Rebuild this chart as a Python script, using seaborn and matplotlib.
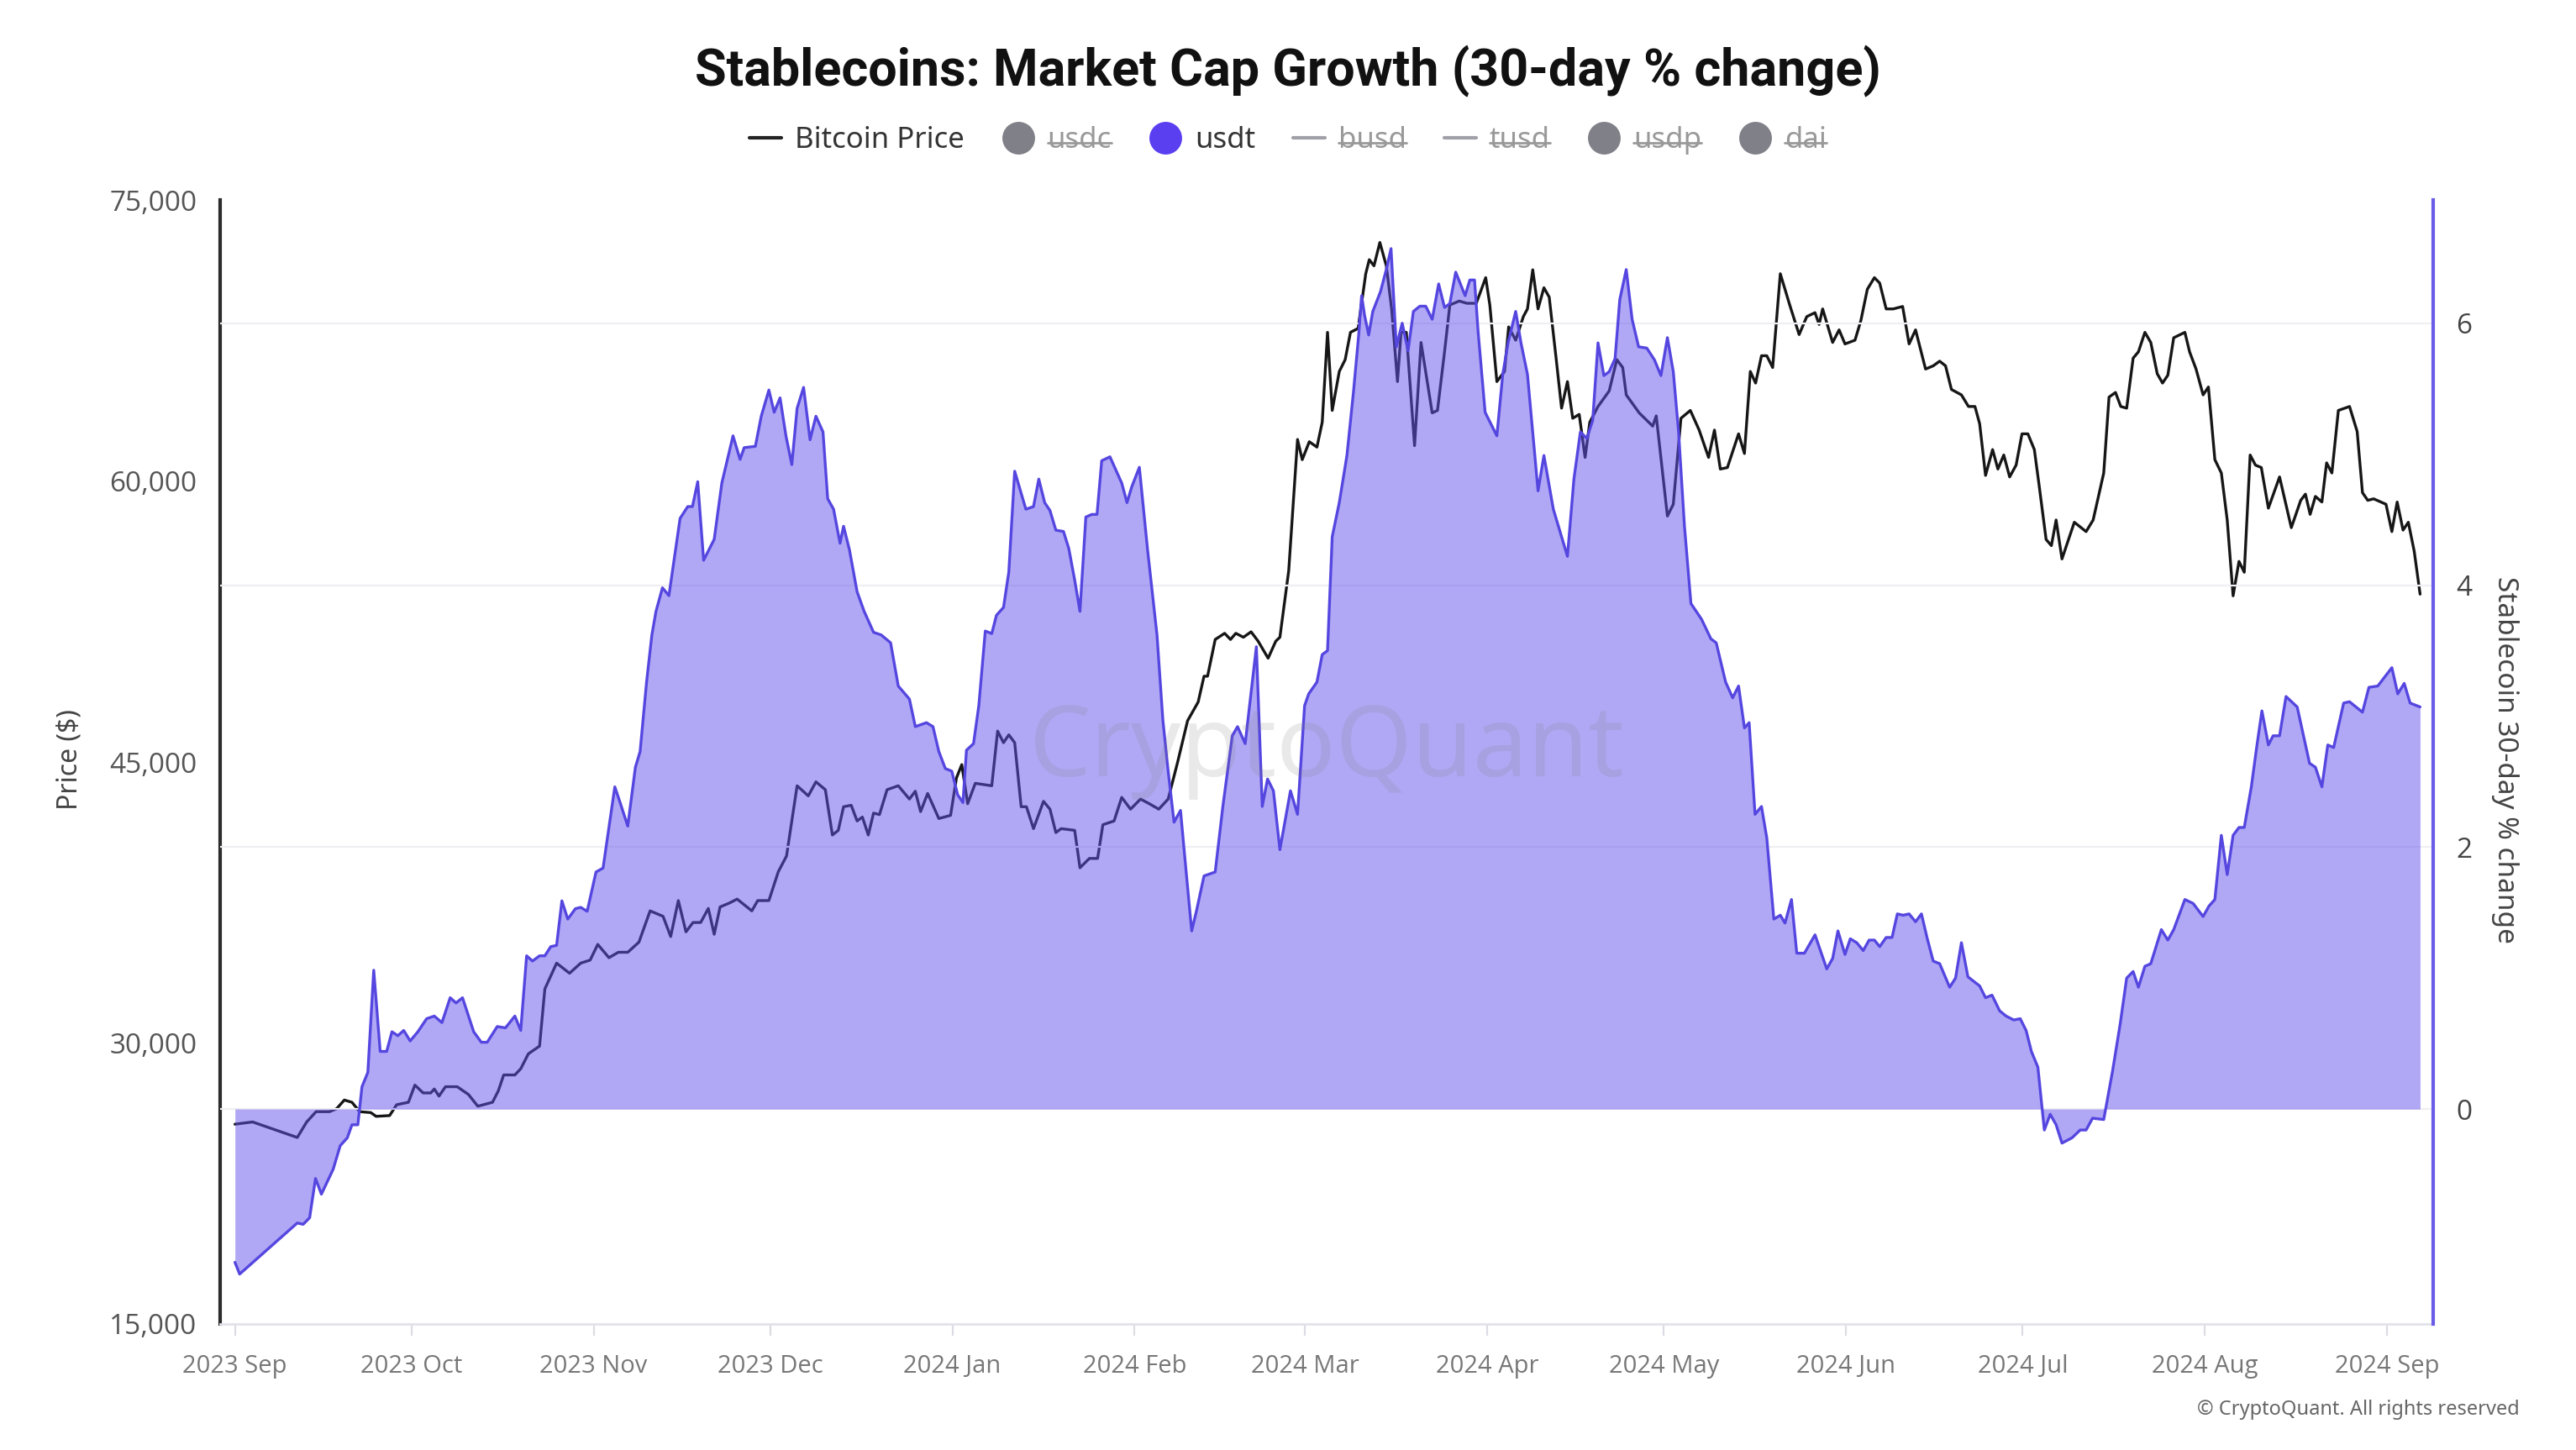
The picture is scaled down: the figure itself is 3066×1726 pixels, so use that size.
import matplotlib
matplotlib.use('Agg')
import matplotlib.pyplot as plt
import matplotlib.dates as mdates
from matplotlib.lines import Line2D
from matplotlib.ticker import FuncFormatter
import seaborn as sns
import pandas as pd

start = pd.Timestamp('2023-09-01')

# bitcoin price, days after 2023-09-01
price_days = [0, 3.0, 10.6, 12.2, 13.8, 16.1, 17.3, 18.6, 19.9, 21.2, 23.1, 24.0, 26.3, 27.5, 29.5,
              30.6, 32.0, 33.3, 33.9, 34.7, 35.8, 37.8, 39.7, 41.3, 43.8, 44.8, 45.7, 47.6, 48.6, 49.9,
              51.8, 52.7, 54.7, 56.9, 58.8, 60.4, 61.7, 63.6, 65.2, 66.8, 68.7, 70.6, 72.8, 74.1, 75.4,
              76.7, 77.9, 79.2, 80.5, 81.5, 82.5, 84.1, 85.4, 87.9, 88.9, 90.8, 92.4, 93.8, 95.6,
              97.5, 98.8, 100.4, 101.6, 102.6, 103.5, 104.8, 105.8, 106.7, 107.7, 108.6, 109.6, 110.9,
              112.8, 114.7, 115.7, 116.6, 117.8, 119.7, 121.7, 122.7, 123.6, 124.6, 125.9, 128.7,
              129.7, 130.7, 131.6, 132.6, 133.7, 134.6, 135.8, 137.5, 138.6, 139.6, 140.5, 142.8,
              143.7, 145.3, 146.7, 147.6, 149.5, 150.8, 152.3, 154.0, 155.5, 157.1, 158.7, 160.3,
              162.0, 163.8, 164.8, 165.4, 166.7, 168.3, 169.3, 170.2, 171.5, 172.8, 174.0, 175.7,
              177.0, 177.7, 179.2, 180.7, 181.5, 182.7, 184.0, 184.9, 185.8, 186.6, 187.8, 188.8,
              189.7, 191.0, 192.3, 192.9, 193.7, 194.7, 195.8, 196.7, 197.7, 198.3, 199.2, 200.6,
              201.7, 203.6, 204.5, 205.7, 206.6, 208.2, 209.5, 211.1, 212.7, 213.4, 214.6, 215.9,
              216.6, 217.8, 219.1, 219.8, 220.7, 221.6, 222.6, 223.5, 224.7, 225.6, 226.6, 227.5,
              228.6, 229.6, 230.4, 231.8, 233.7, 235.0, 236.0, 236.6, 238.8, 241.1, 241.7, 243.6,
              244.6, 245.9, 247.5, 249.0, 250.6, 251.6, 252.6, 253.8, 255.7, 256.7, 257.7, 258.6,
              259.6, 260.5, 261.5, 262.8, 264.4, 266.0, 267.3, 268.7, 269.4, 270.0, 271.7, 272.8,
              273.8, 275.5, 276.5, 277.6, 278.8, 279.7, 280.8, 282.0, 283.6, 284.7, 285.8, 287.5,
              288.8, 289.9, 290.9, 291.9, 293.6, 294.8, 295.9, 296.7, 297.7, 298.9, 299.8, 300.8,
              301.8, 302.9, 303.9, 304.9, 306.0, 306.8, 308.0, 308.9, 309.7, 310.7, 312.8, 314.8,
              316.0, 317.8, 318.7, 319.8, 320.7, 321.7, 322.8, 323.7, 324.8, 325.8, 326.9, 327.8,
              328.7, 329.7, 331.6, 332.4, 333.5, 334.7, 335.6, 336.7, 337.8, 338.8, 339.8, 340.8,
              341.7, 342.7, 343.6, 344.6, 345.8, 347.7, 349.7, 351.3, 352.1, 352.9, 353.8, 354.9,
              355.7, 356.6, 357.7, 359.6, 360.9, 361.8, 362.7, 363.7, 365.8, 366.8, 367.7, 368.7,
              369.6, 370.6, 371.6]
price_usd = [25660, 25780, 24950, 25780, 26330, 26330, 26490, 26950, 26830, 26330, 26280, 26080, 26120, 26700, 26830,
             27750, 27330, 27330, 27540, 27160, 27660, 27660, 27250, 26620, 26830, 27450, 28290, 28290, 28620, 29420,
             29830, 32880, 34260, 33720, 34260, 34420, 35260, 34550, 34840, 34840, 35380, 37050, 36760, 35680, 37600,
             35930, 36430, 36430, 37180, 35800, 37260, 37470, 37680, 37050, 37600, 37600, 39140, 39980, 43730,
             43190, 43940, 43520, 41100, 41350, 42610, 42690, 41850, 42060, 41100, 42270, 42190, 43520,
             43730, 43020, 43440, 42350, 43320, 41980, 42150, 44150, 44860, 42770, 43860, 43730,
             46650, 46030, 46450, 46030, 42610, 42610, 41440, 42900, 42480, 41230, 41440, 41350,
             39350, 39850, 39850, 41650, 41850, 43110, 42480, 43020, 42770, 42480, 43020, 44980,
             47200, 48200, 49580, 49580, 51540, 51870, 51540, 51870, 51660, 51950, 51450, 50540,
             51450, 51660, 55210, 62220, 61140, 62100, 61810, 63140, 67940, 63770, 65850, 66480,
             67940, 68150, 71070, 71820, 71490, 72740, 71490, 69190, 65310, 67940, 67940, 61890,
             67400, 63640, 63770, 66900, 69400, 69610, 69490, 69490, 70860, 69400, 65310, 65850,
             68230, 67520, 68780, 69190, 71280, 69190, 70320, 69820, 66480, 63890, 65310, 63350,
             63560, 61260, 63140, 63980, 64810, 66480, 66060, 64600, 63640, 62930, 63480, 58130,
             58760, 63350, 63770, 62720, 61260, 62720, 60640, 60720, 62520, 61470, 65850, 65230,
             66690, 66690, 66060, 71070, 69400, 67820, 68780, 68990, 68360, 69190, 67400, 68070,
             67320, 67520, 68570, 70240, 70860, 70570, 69190, 69190, 69320, 67320, 68070, 65980,
             66150, 66400, 66150, 64890, 64600, 63980, 63980, 63060, 60300, 61680, 60640, 61390,
             60220, 60850, 62520, 62520, 61680, 59800, 56880, 56550, 57920, 55840, 57800, 57300,
             57920, 60430, 64480, 64730, 63980, 63890, 66560, 66900, 67940, 67400, 65730, 65230,
             65650, 67650, 67940, 66900, 65980, 64600, 65020, 61140, 60430, 57920, 53870, 55710,
             55130, 61390, 60850, 60720, 58550, 60220, 57510, 58970, 59300, 58220, 59180, 58880,
             60970, 60430, 63770, 63980, 62640, 59380, 58970, 59050, 58760, 57300, 58880, 57380,
             57800, 56250, 53960]

# usdt market cap, 30-day % change
usdt_days = [0.0, 0.8, 10.6, 11.6, 12.7, 13.7, 14.7, 16.7, 17.9, 19.1, 19.9, 20.9, 21.6, 22.6, 23.6,
             24.7, 25.8, 26.7, 27.7, 28.7, 29.8, 31.1, 32.6, 33.9, 35.2, 36.6, 37.6, 38.7, 40.6, 41.9,
             42.9, 44.6, 46.0, 47.6, 48.6, 49.6, 50.6, 51.8, 52.7, 53.7, 54.7, 55.6, 56.6, 57.9, 58.8,
             59.9, 61.4, 62.6, 64.6, 65.5, 66.8, 68.1, 68.9, 70.0, 70.9, 71.6, 72.7, 73.8, 75.7, 77.0,
             77.8, 78.7, 79.7, 81.5, 82.8, 84.7, 85.9, 86.6, 88.5, 89.5, 90.8, 91.7, 92.7, 93.7, 94.7,
             95.6, 96.7, 97.8, 98.8, 100.0, 100.8, 101.8, 102.9, 103.5, 104.5, 105.8, 107.0, 108.6,
             109.9, 111.5, 112.8, 114.7, 115.7, 117.6, 118.7, 119.7, 120.8, 121.9, 122.9, 123.8,
             124.4, 125.6, 126.5, 127.6, 128.7, 129.5, 130.7, 131.6, 132.6, 134.5, 135.8, 136.7,
             137.7, 138.6, 139.6, 140.9, 141.8, 142.8, 143.7, 144.7, 145.7, 146.6, 147.4, 148.8,
             150.8, 151.7, 152.5, 153.8, 155.2, 156.8, 157.8, 158.7, 159.7, 160.8, 161.7, 162.7,
             163.5, 164.8, 166.7, 168.0, 169.6, 170.5, 171.8, 173.7, 174.7, 175.6, 176.6, 177.7,
             179.5, 180.7, 181.9, 182.6, 184.0, 184.9, 185.8, 186.6, 187.8, 189.1, 190.2, 191.1,
             191.6, 192.1, 192.8, 193.5, 194.8, 195.8, 196.6, 197.5, 198.5, 199.5, 200.4, 201.5,
             202.5, 203.6, 204.7, 205.7, 206.6, 207.6, 209.2, 210.0, 210.8, 211.4, 212.6, 214.6,
             215.6, 216.5, 217.8, 218.7, 219.8, 221.6, 222.6, 224.2, 226.6, 227.7, 228.8, 229.9,
             230.9, 231.8, 232.8, 233.7, 234.7, 235.5, 236.6, 237.6, 238.7, 240.1, 241.4, 242.5,
             243.6, 244.6, 245.5, 246.5, 247.6, 249.4, 251.0, 251.9, 253.5, 254.7, 255.7, 256.7,
             257.5, 258.5, 259.6, 260.5, 261.7, 262.8, 263.6, 264.7, 265.6, 266.9, 268.7, 270.7,
             271.7, 272.6, 273.8, 274.7, 275.8, 276.9, 277.9, 278.8, 279.7, 280.8, 281.8, 282.7,
             283.7, 284.7, 285.8, 286.8, 287.8, 288.8, 289.9, 291.6, 292.6, 293.6, 294.7, 296.7,
             297.7, 298.8, 300.1, 301.2, 302.5, 303.6, 304.6, 305.5, 306.6, 307.7, 308.7, 309.7,
             310.7, 312.4, 313.8, 314.8, 315.9, 317.8, 319.3, 320.6, 321.7, 322.8, 323.7, 324.8,
             325.8, 327.6, 328.7, 329.7, 331.6, 333.0, 334.7, 335.7, 336.7, 337.8, 338.8, 339.8,
             340.8, 341.7, 342.9, 343.8, 344.7, 345.8, 346.6, 347.7, 348.8, 350.7, 352.8, 353.8,
             354.9, 355.9, 356.9, 358.6, 359.6, 361.8, 362.9, 364.4, 366.8, 367.8, 368.9, 369.9,
             371.6]
usdt_change = [-1.17, -1.26, -0.87, -0.88, -0.83, -0.53, -0.65, -0.46, -0.28, -0.22, -0.12, -0.12, 0.17, 0.28, 1.06,
               0.44, 0.44, 0.59, 0.56, 0.60, 0.52, 0.59, 0.69, 0.71, 0.66, 0.85, 0.81, 0.85, 0.59, 0.51,
               0.51, 0.63, 0.62, 0.71, 0.60, 1.17, 1.13, 1.17, 1.17, 1.24, 1.25, 1.59, 1.45, 1.53, 1.54,
               1.51, 1.81, 1.84, 2.46, 2.34, 2.16, 2.61, 2.73, 3.26, 3.62, 3.80, 3.98, 3.92, 4.51, 4.60,
               4.60, 4.79, 4.19, 4.35, 4.78, 5.14, 4.96, 5.05, 5.06, 5.29, 5.49, 5.32, 5.43, 5.14, 4.92,
               5.35, 5.51, 5.11, 5.29, 5.17, 4.66, 4.58, 4.32, 4.45, 4.27, 3.95, 3.80, 3.64,
               3.62, 3.56, 3.23, 3.13, 2.92, 2.95, 2.92, 2.73, 2.60, 2.58, 2.40, 2.34,
               2.74, 2.79, 3.08, 3.65, 3.63, 3.77, 3.83, 4.10, 4.87, 4.58, 4.60, 4.81,
               4.63, 4.57, 4.42, 4.41, 4.28, 4.04, 3.80, 4.52, 4.54, 4.54, 4.95, 4.98,
               4.78, 4.63, 4.75, 4.90, 4.27, 3.62, 2.97, 2.58, 2.19, 2.28, 1.84, 1.36,
               1.51, 1.78, 1.81, 2.31, 2.85, 2.92, 2.79, 3.53, 2.31, 2.52, 2.43, 1.98,
               2.43, 2.25, 3.08, 3.17, 3.26, 3.47, 3.50, 4.37, 4.63, 4.99, 5.47, 5.91,
               6.21, 6.06, 5.91, 6.09, 6.24, 6.41, 6.57, 5.82, 6.00, 5.79, 6.09, 6.13,
               6.13, 6.03, 6.30, 6.12, 6.15, 6.39, 6.21, 6.33, 6.33, 5.94, 5.32, 5.14,
               5.61, 5.85, 6.09, 5.85, 5.61, 4.72, 4.99, 4.58, 4.22, 4.81, 5.17, 5.12,
               5.26, 5.85, 5.60, 5.63, 5.73, 6.18, 6.41, 6.03, 5.82, 5.81, 5.72, 5.60,
               5.89, 5.63, 5.17, 4.45, 3.86, 3.74, 3.59, 3.56, 3.26, 3.14, 3.23, 2.91,
               2.95, 2.25, 2.31, 2.07, 1.45, 1.48, 1.42, 1.60, 1.19, 1.19, 1.33, 1.07,
               1.15, 1.36, 1.18, 1.30, 1.27, 1.21, 1.29, 1.29, 1.24, 1.31, 1.31, 1.49,
               1.48, 1.49, 1.43, 1.49, 1.30, 1.13, 1.11, 0.93, 1.00, 1.27, 1.01, 0.94,
               0.85, 0.87, 0.75, 0.71, 0.68, 0.69, 0.60, 0.44, 0.32, -0.16, -0.04, -0.12,
               -0.26, -0.22, -0.16, -0.16, -0.07, -0.08, 0.29, 0.65, 1.00, 1.05, 0.93, 1.09,
               1.11, 1.37, 1.29, 1.37, 1.60, 1.57, 1.47, 1.55, 1.60, 2.09, 1.79, 2.09,
               2.15, 2.15, 2.46, 2.76, 3.04, 2.78, 2.85, 2.85, 3.15, 3.07, 2.64, 2.61,
               2.46, 2.78, 2.76, 3.10, 3.11, 3.03, 3.22, 3.23, 3.37, 3.17, 3.25, 3.10,
               3.07]

legend_names = ['Bitcoin Price', 'usdc', 'usdt', 'busd', 'tusd', 'usdp', 'dai']
legend_kind = ['line', 'dot', 'dot', 'line', 'line', 'dot', 'dot']
legend_active = [True, False, True, False, False, False, False]

price_df = pd.DataFrame({'date': start + pd.to_timedelta(price_days, unit='D'), 'price': price_usd})
usdt_df = pd.DataFrame({'date': start + pd.to_timedelta(usdt_days, unit='D'), 'change': usdt_change})

sns.set_theme(style='white')
plt.rcParams['font.family'] = ['Noto Sans', 'DejaVu Sans']

line_purple = '#5546e0'
fill_purple = '#6352ec'

fig = plt.figure(figsize=(15.33, 8.63), dpi=200)
fig.patch.set_facecolor('white')
ax = fig.add_axes([0.0855, 0.087, 0.859, 0.775])
ax2 = ax.twinx()

sns.lineplot(data=price_df, x='date', y='price', ax=ax, color='#161616', linewidth=1.2)
sns.lineplot(data=usdt_df, x='date', y='change', ax=ax2, color=line_purple, linewidth=1.2, zorder=3)
ax2.fill_between(usdt_df['date'], usdt_df['change'], 0, color=fill_purple, alpha=0.5, linewidth=0, zorder=2)

ax.set_xlim(start - pd.Timedelta(days=2.5), start + pd.Timedelta(days=373.8))
ax.set_ylim(15000, 75000)
ax.set_yticks([15000, 30000, 45000, 60000, 75000])
ax.yaxis.set_major_formatter(FuncFormatter(lambda v, p: f'{v:,.0f}'))
ax2.set_ylim(-1.64, 6.94)
ax2.set_yticks([0, 2, 4, 6])

ax.xaxis.set_major_locator(mdates.MonthLocator())
ax.xaxis.set_major_formatter(mdates.DateFormatter('%Y %b'))

for a in (ax, ax2):
    a.set_xlabel('')
    a.set_ylabel('')

ax.grid(False)
ax2.grid(False)
ax2.yaxis.grid(True, color='#efeff3', linewidth=0.8)
ax2.set_axisbelow(True)

ax.spines['top'].set_visible(False)
ax.spines['right'].set_visible(False)
ax.spines['left'].set_color('#2b2b2b')
ax.spines['left'].set_linewidth(1.5)
ax.spines['bottom'].set_color('#e2e2ea')
ax.spines['bottom'].set_linewidth(1.0)
for s in ('top', 'left', 'bottom'):
    ax2.spines[s].set_visible(False)
ax2.spines['right'].set_color('#6b5ce7')
ax2.spines['right'].set_linewidth(1.5)

ax.tick_params(axis='y', length=0, pad=10, labelsize=12, labelcolor='#555555')
ax2.tick_params(axis='y', length=0, pad=10, labelsize=12, labelcolor='#444444')
ax.tick_params(axis='x', length=5, width=0.8, color='#dcdce4', pad=8, labelsize=10.5,
               labelcolor='#777777', bottom=True)
for lab in ax.get_yticklabels() + ax2.get_yticklabels() + ax.get_xticklabels():
    lab.set_fontfamily(['Open Sans', 'DejaVu Sans'])

# watermark
ax2.text(0.5, 0.51, 'CryptoQuant', transform=ax2.transAxes, ha='center', va='center',
         fontsize=42, color='#808080', alpha=0.17, zorder=5)

fig.text(0.5, 0.951, 'Stablecoins: Market Cap Growth (30-day % change)', ha='center', va='center',
         fontsize=22, fontweight='bold', color='#111111', family=['Roboto', 'DejaVu Sans'])
fig.text(0.027, 0.476, 'Price ($)', rotation=90, ha='center', va='center', fontsize=11.5, color='#444444')
fig.text(0.9726, 0.476, 'Stablecoin 30-day % change', rotation=270, ha='center', va='center',
         fontsize=12, color='#444444')
fig.text(0.978, 0.028, '© CryptoQuant. All rights reserved', ha='right', va='center',
         fontsize=8.5, color='#666666')

# legend
handles = []
for name, kind, active in zip(legend_names, legend_kind, legend_active):
    if name == 'Bitcoin Price':
        c = '#222222'
    elif active:
        c = '#5a3ff0'
    elif kind == 'dot':
        c = '#808088'
    else:
        c = '#a0a0a8'
    if kind == 'line':
        handles.append(Line2D([], [], color=c, linewidth=1.5))
    else:
        handles.append(Line2D([], [], color=c, marker='o', linestyle='none', markersize=13))
leg = fig.legend(handles, legend_names, loc='center', bbox_to_anchor=(0.5, 0.903), ncol=7,
                 frameon=False, fontsize=12.5, handlelength=1.1, handletextpad=0.45,
                 columnspacing=1.3)
for txt, active in zip(leg.get_texts(), legend_active):
    txt.set_color('#333333' if active else '#999999')

fig.canvas.draw()
inv = fig.transFigure.inverted()
for txt, active in zip(leg.get_texts(), legend_active):
    if not active:
        bb = txt.get_window_extent()
        (x0, y0), (x1, y1) = inv.transform([[bb.x0, bb.y0], [bb.x1, bb.y1]])
        ym = y0 + (y1 - y0) * 0.42
        fig.add_artist(Line2D([x0, x1], [ym, ym], color='#999999', linewidth=1.0))

fig.savefig('out.png', dpi=200, facecolor='white')
